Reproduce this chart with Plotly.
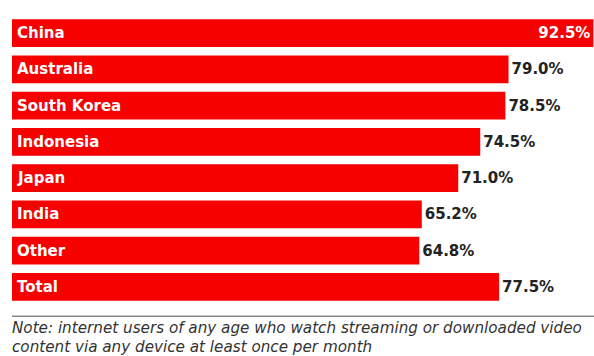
import plotly.graph_objects as go

categories = ["China", "Australia", "South Korea", "Indonesia", "Japan", "India", "Other", "Total"]
values = [92.5, 79.0, 78.5, 74.5, 71.0, 65.2, 64.8, 77.5]
note_lines = [
    "Note: internet users of any age who watch streaming or downloaded video",
    "content via any device at least once per month",
]

RED = "#f60000"
positions = ["inside" if v == max(values) else "outside" for v in values]

fig = go.Figure()
fig.add_trace(go.Bar(
    x=values,
    y=categories,
    orientation="h",
    marker=dict(color=RED, line=dict(width=0)),
    text=[f"{v:.1f}%" for v in values],
    textposition=positions,
    insidetextanchor="end",
    insidetextfont=dict(family="DejaVu Sans", size=15, color="white", weight="bold"),
    outsidetextfont=dict(family="DejaVu Sans", size=15, color="#222222", weight="bold"),
    cliponaxis=False,
    hoverinfo="skip",
))

annotations = []
for c in categories:
    annotations.append(dict(
        x=0, y=c, xref="x", yref="y", text=c, showarrow=False,
        xanchor="left", yanchor="middle", xshift=3,
        font=dict(family="DejaVu Sans", size=15, color="white", weight="bold"),
    ))
note_y = [-0.046, -0.112]
for line, yy in zip(note_lines, note_y):
    annotations.append(dict(
        x=0, y=yy, xref="paper", yref="paper", text=line, showarrow=False,
        xanchor="left", yanchor="top", xshift=-1, borderpad=0,
        font=dict(family="DejaVu Sans", size=15.2, color="#333333", style="italic"),
    ))

fig.update_layout(
    width=594, height=356,
    margin=dict(l=12, r=0, t=15, b=51),
    paper_bgcolor="white", plot_bgcolor="white",
    bargap=0.24,
    showlegend=False,
    xaxis=dict(range=[0, 92.6], visible=False, fixedrange=True),
    yaxis=dict(categoryorder="array", categoryarray=categories, autorange="reversed",
               visible=False, fixedrange=True),
    annotations=annotations,
    shapes=[dict(type="line", xref="paper", yref="paper", x0=0, x1=1, y0=-0.039, y1=-0.039,
                 line=dict(color="#8a8a8a", width=1.5))],
)

fig.write_html("out.html")
